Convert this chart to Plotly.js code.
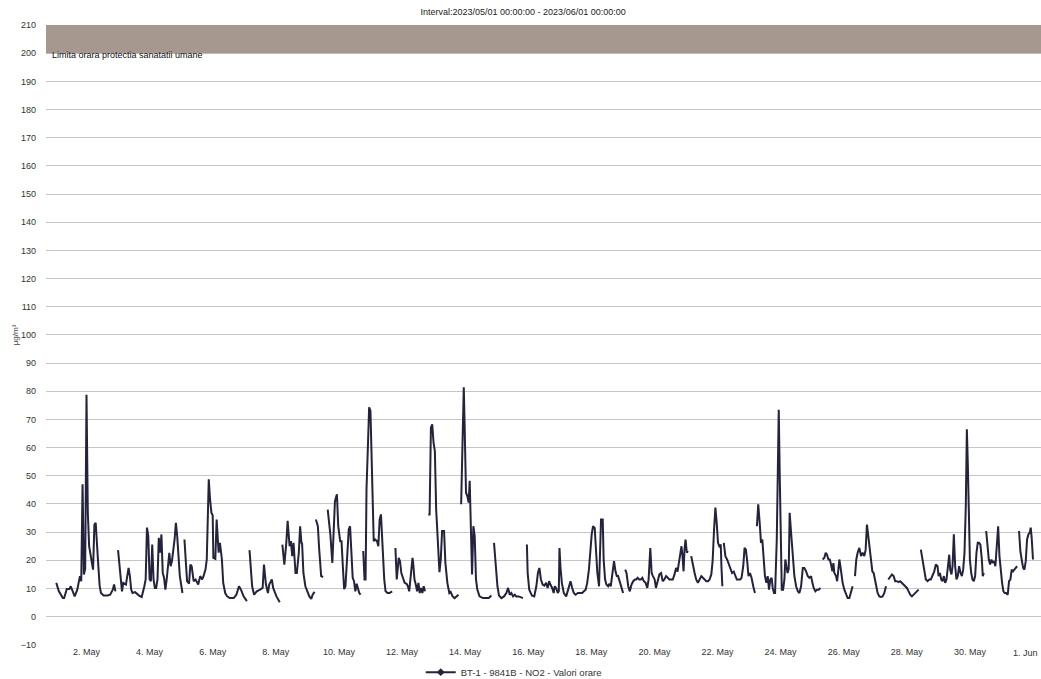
<!DOCTYPE html>
<html>
<head>
<meta charset="utf-8">
<script src="https://cdn.plot.ly/plotly-3.0.1.min.js"></script>
<style>
  html, body { margin: 0; padding: 0; background: #ffffff; }
  #chart { width: 1041px; height: 679px; }
</style>
</head>
<body>
<div id="chart"></div>
<script>
// ---- DATA (hours since 2023-05-01 00:00, NO2 µg/m³; null = missing hour) ----
const startDate = Date.UTC(2023, 4, 1, 0, 0, 0);

const hours = [
  1,3,6,7,9,11,12,13,15,17,19,20,21,22,23,24,25,26,28,29,30,31,33,34,35,37,40,42,44,45,46,47,
  48,50,51,52,54,55,56,57,58,59,61,64,66,68,69,70,71,72,73,74,75,76,77,78,79,80,81,82,83,84,85,87,88,89,90,91,92,93,95,96,97,97.7,
  98.5,99.5,100.5,102,103,104,105.5,107,108,109,110.5,112,113,114.5,115.5,117,118,119,120,120.5,122,123,124.5,125.5,127,128,129.5,131,133,136,138,140,141.5,143.5,146,147,
  148,150,151.5,153.5,156,158,159,160.5,162,163,165,166,168.5,171,172,
  173,174.5,176,177,178.5,179.5,180.5,181.5,183,184,185.5,186.5,187.5,188,189,190.5,192,193.5,195,196,197.5,198,
  198.5,200,201,202.5,204,205,
  207.5,209.5,211,212,213,214.5,215.5,217,218,219,220,221,222,223.5,224.5,225.5,226.5,227.5,228.5,229.5,230.5,231.5,232.5,233.5,
  234.5,235.5,236.3,237,238,239,240,240.5,241.5,242.5,243.5,245,246,247,248,249,250.5,251.5,253,254.5,256.5,257.5,
  259,260,261.5,262.5,263.5,264.5,266,267.5,268.5,269.5,270.5,272,272.5,273.5,274.5,275.5,276.5,277.5,278.5,279.5,280.5,281.5,282.5,
  284,285,286,287,288,289,290,291.5,292.5,293.5,294.5,296,297,298.5,300,301,302.5,304,306,307,308,
  309,310,311,311.7,312.7,313.7,314.7,315.5,316.3,317.3,318.3,319.3,320.3,321.3,323,325.5,328,330,332,333,
  334,335.3,336.6,337.8,339.6,341.6,343.4,344.7,346,347.2,348.5,349.8,351,352.8,354.3,356,357.5,
  359,359.6,360.8,362.8,364.6,366.2,367.4,368.5,369.7,371,372.3,373.6,374.8,375.9,376.9,378.2,379.4,380.2,381.2,382.5,383.3,383.8,384.5,385.6,387.1,388.9,390.4,392.2,393.5,394.7,396,397.8,399.3,401.1,402.4,403.7,404.9,406.2,
  408.3,409.3,410.6,411.6,412.6,413.9,414.6,415.4,416.7,417.4,418.5,419.5,420.8,421.8,422.8,424.1,425.3,426.4,427.4,428.4,429.7,431,432.2,433,
  433.8,434.8,436.1,437.3,438.6,439.9,441.2,442.2,443.2,444.5,445.8,446.8,448,449.3,450.6,451.6,452.9,453.9,454.9,456.2,457.2,458.5,459.8,461.1,462.3,463.6,464.9,466.2,467.4,468.7,470,471.3,472.5,473.6,474.6,475.6,476.6,477.4,478.2,478.9,479.7,480.7,481.5,482.7,
  484,485.3,486.6,487.8,489.1,490.4,491.7,492.9,494.2,495.5,496.8,498,499.3,500.3,501.4,502.4,503.4,504.4,505.4,506.5,507,507.7,508.3,
  508.8,510,511.3,512.6,513.9,515.1,516.4,517.4,518.7,520,521.3,522.3,523.6,524.6,525.6,526.6,527.6,528.7,529.9,531.2,532.5,533.3,
  534,535,536.1,537.1,538.1,539.1,540.1,541.2,542.2,543.2,544.2,545.2,546,547,547.8,549.1,549.8,550.6,551.4,552.2,552.9,553.9,554.9,555.6,556.6,557.3,558.2,558.9,560,561.3,562.5,563.8,565.1,566.3,567.6,568.9,570.1,571.4,572.7,573.9,575.2,576.2,577.2,578.5,579.7,581,582.3,583.2,
  584,585.3,586.3,587.3,588.4,589.4,590.4,591.4,592.2,592.9,594.2,595,595.7,596.7,597.5,598.2,599.2,600.5,601.8,603,604.3,605.6,606.8,607.7,
  608.6,609.6,610.6,611.9,613.2,614.4,615.7,616.7,617.7,618.7,619.7,620.8,621.8,622.8,623.8,624.8,625.8,627.1,628.4,629.6,630.9,632.2,633,
  633.9,635.4,636.7,638,639.2,640.5,641.8,643,644.3,645.6,646.8,648.1,649.4,650.6,651.9,653.2,654.4,655.7,657,657.8,
  658.7,660,661.3,662.5,663.8,665.1,666.3,667.6,668.9,670.1,671.4,672.2,673.2,674.2,675.2,676.2,677.2,678.2,679.2,680.3,681,682,682.8,683.8,684.8,685.8,686.8,687.8,688.9,689.9,690.9,691.9,692.9,693.7,694.4,695.2,696,697,698,699,700,701,702,703,704,705.1,705.8,706.6,707.5,
  708.4,709.4,710.4,711.4,712.4,713.4,714.4,715.4,716.5,717.5,718.5,719.5,720.5,721.5,722.5,723.5,724.8,725.8,726.8,727.8,728.8,729.8,730.8,731.9,732.6,
  733.4,734.4,735.4,736.5,737.5,738.5,739.5,740.5,741.5,742.3,743,744
];

const no2 = [
  12,9,6.6,6.6,9.8,9.8,10.8,9.4,7.2,9.6,14.4,12.6,47,15,17,78.8,37,25,19.6,16.7,32.7,33.3,18,11,8.4,7.5,7.5,7.8,9.6,11.4,9,null,
  23.6,13.2,9,12,11.4,14.4,17.3,14.4,9.6,8.4,8.7,7.5,7,10.8,13.2,31.6,28.6,13.2,12.6,25.6,13.2,10.2,10.2,13.2,28,22.7,29.2,15.5,13.8,9.6,13.2,22.7,17.9,19.7,22.7,27.4,33.3,28.6,14.4,10.8,8.4,null,
  27.4,17.9,12.6,11.7,18.5,17.9,12.6,13.2,12,11.4,14.4,13.2,14.4,16.7,20.3,48.8,41.6,36.9,36,20.9,20.5,34.5,22.7,26.2,20.3,12,8.4,7.2,6.6,6.6,7.8,10.8,9.6,7.2,5.5,null,
  23.6,10.8,7.8,9,9.6,10.2,18.5,11.4,8.4,11.4,13.2,10.2,7.2,5.1,null,
  25.6,18.5,26.2,34,25,26.8,21.5,26.2,15.5,15.5,22.7,32.1,26.2,26,15.5,10.8,9,7.2,6.3,7.8,8.8,null,
  34.5,32.1,24,14.4,14.1,null,
  38,29.2,19.1,29.8,41,43.4,32.1,26.8,26.8,17.9,9.8,10.8,20.3,31,32.1,22.7,13.8,12.6,9,11.7,9.6,8.4,7.8,null,
  23.3,13.2,13.2,45.2,59.4,74.3,73.1,64.2,46.4,26.8,27.4,26.8,25,34.5,36.3,25,13.2,9,8.4,8.4,9,null,
  24.4,13.2,20.9,19.7,15.5,13.8,12,11.7,10.8,9,13.2,20.9,19.1,13.2,11.4,9,12,8.4,10.2,8.4,10.8,9,null,
  36.3,36.3,67.1,68.3,61.8,58.8,38.1,22.7,15.8,20.3,30.4,30.4,19.1,12,8.4,8.8,7.2,6.6,7.2,7.8,null,
  39.9,60.6,81.4,66.5,44,42.8,40.5,48.2,34.5,15,32.1,28.6,13.2,9.6,7.2,6.6,6.6,6.6,7.5,null,
  26.2,17.3,10.8,7.5,6.6,7.2,8.4,10.2,7.8,8.4,7.2,7.8,7.2,7.2,7,6.6,null,
  25.6,15.5,9.6,7.5,7.2,10.8,15.5,17.3,13.2,11.4,11,12,10.2,12.6,11.4,10.2,8.4,10.8,10.2,8.4,9,24.4,17.9,12,8.4,7.2,9.6,12.6,10.2,8.4,7.8,8.4,8.4,8.4,9,9.6,12,16.7,
  29.2,32.1,31.5,22.7,15.5,10.8,25,34.5,34.5,20.3,13.2,11.4,10.8,11.7,10.8,15.5,19.7,16.1,14.4,14.4,12,10.2,8.4,null,
  16.7,15.5,10.8,9,11.4,12.6,13.2,13.2,13.8,13.2,13.2,13.8,12.6,12,10.2,13.2,24.4,15.5,14.4,13.2,10.2,13.2,15,15.5,12.6,13.2,14.4,13.8,13.2,13.2,13.2,15,17.3,16,19.1,22.7,25,21.5,16.1,23.8,27.4,22.7,23.3,null,
  21.5,17.9,15.5,13.2,12,13.2,14.4,13.8,13.2,12.6,12.6,13.2,15,19.7,31,38.7,33.3,26.2,25,25.6,17.9,10.8,null,
  26.2,21.5,20.3,18.5,16.7,15.5,16,14.4,13.2,13.2,13.2,13.8,17.9,24.4,23.8,19.7,14.4,15.5,13.8,10.8,8.4,null,
  32.1,39.9,33.3,26.2,27.4,19.7,14.4,12,14.4,9.6,13.2,13.8,10.2,8.4,8.4,27.4,54.7,73.4,48.8,17.9,9.6,9.6,13.2,20.3,17.9,15.5,17,36.9,29.8,20.3,14.4,10.8,9,8.4,10.8,17.3,17.3,16.1,14.4,13.8,14.4,12,10.2,9,9.6,9.6,10.2,null,
  20.3,20.9,22.7,22,20.3,20.3,18.5,16.1,19,15.5,14.4,12.6,15.5,20.3,17.9,15.5,12,9.6,7.8,6.6,6.6,8.4,10.8,null,
  14.4,20.3,22.7,24.4,21.5,22.7,21.5,23.8,32.7,28.6,22.7,20.3,16.1,15.5,13.2,10.2,8.4,7.2,7,7.2,8.4,10.8,null,
  13.2,14.4,15,14.4,12.6,12.6,12.3,12.6,12,11.4,10.8,10.2,9,7.8,7.2,7.8,8.4,9,9.6,null,
  23.8,20.3,15.5,13.2,12.6,13.2,13.2,14.4,16.1,18.5,17.9,14.4,15.5,13.2,12.6,14.4,12,13.2,17.9,22,16.7,15,17.9,29.2,17.9,13.2,14.4,17.9,15.5,14.4,16.7,22.7,39.3,66.5,54.7,31,20.3,15.5,13.2,12.6,14.4,22.7,26.2,26.2,25.6,20.3,14.4,15.5,null,
  30.4,25,20.3,18.5,20.3,19.1,19.7,17.9,27.4,32.1,21.5,15.5,12,9,8.4,8.4,7.8,12.6,13.2,16.7,16.1,16.7,17.3,17.9,null,
  30.4,23.3,20.3,17.3,16.7,19.7,27.4,29.2,29.8,31.6,28,20.3
];

const tickDates = ['2023-05-02','2023-05-04','2023-05-06','2023-05-08','2023-05-10','2023-05-12','2023-05-14','2023-05-16',
                   '2023-05-18','2023-05-20','2023-05-22','2023-05-24','2023-05-26','2023-05-28','2023-05-30','2023-06-01'];
const tickLabels = ['2. May','4. May','6. May','8. May','10. May','12. May','14. May','16. May',
                    '18. May','20. May','22. May','24. May','26. May','28. May','30. May','1. Jun'];

const limitBand = [200, 210];
const limitLabel = 'Limita orara protectia sanatatii umane';
const seriesName = 'BT-1 - 9841B - NO2 - Valori orare';
const chartTitle = 'Interval:2023/05/01 00:00:00 - 2023/06/01 00:00:00';
const yTitle = 'µg/m³';

// ---- BUILD ----
function toStr(h) {
  const d = new Date(startDate + h * 3600000);
  return d.toISOString().replace('T', ' ').slice(0, 19);
}
const xs = hours.map(toStr);

const FONT = 'Liberation Sans, Arial, sans-serif';
const LINE = '#23233d';
const TICKFONT = { family: FONT, size: 9, color: '#333333' };

// last tick label sits at the right edge: draw it right-aligned so it stays readable
const lastIdx = tickLabels.length - 1;
const shownTickText = tickLabels.map((t, i) => (i === lastIdx ? '' : t));

const traces = [
  {
    type: 'scatter', mode: 'lines', x: xs, y: no2,
    line: { color: LINE, width: 2 }, connectgaps: false,
    showlegend: false, hoverinfo: 'x+y'
  },
  {
    type: 'scatter', mode: 'lines+markers', x: [null], y: [null],
    name: seriesName, line: { color: LINE, width: 2 },
    marker: { color: LINE, size: 6, symbol: 'diamond' }, showlegend: true
  }
];

const layout = {
  width: 1041, height: 679,
  margin: { l: 46, r: 0, t: 25, b: 34 },
  paper_bgcolor: '#ffffff', plot_bgcolor: '#ffffff',
  font: { family: FONT, size: 9, color: '#333333' },
  title: {
    text: chartTitle, font: { family: FONT, size: 9, color: '#222222' },
    xref: 'container', x: 0.5025, xanchor: 'center',
    yref: 'container', y: 0.982, yanchor: 'middle'
  },
  xaxis: {
    type: 'date', range: [toStr(-6.81), toStr(750.1)],
    tickmode: 'array', tickvals: tickDates, ticktext: shownTickText,
    showgrid: false, zeroline: false, showline: false, ticks: '',
    tickfont: TICKFONT
  },
  yaxis: {
    range: [-10.05, 210], tick0: 0, dtick: 10,
    showgrid: true, gridcolor: '#c6c6c6', gridwidth: 1,
    zeroline: false, showline: false, ticks: '',
    ticklabelstandoff: 9,
    tickfont: TICKFONT,
    title: { text: yTitle, font: { family: FONT, size: 8, color: '#444444' }, standoff: 0 }
  },
  shapes: [{
    type: 'rect', xref: 'paper', x0: 0, x1: 1, yref: 'y', y0: limitBand[0], y1: limitBand[1],
    fillcolor: '#a6988f', line: { width: 0 }, layer: 'above'
  }],
  annotations: [
    {
      text: limitLabel, xref: 'paper', x: 0.004, xanchor: 'left',
      yref: 'y', y: limitBand[0], yanchor: 'middle', yshift: -2, showarrow: false,
      font: { family: FONT, size: 9, color: '#111111' }
    },
    {
      text: tickLabels[lastIdx], xref: 'paper', x: 1, xanchor: 'right', xshift: -1,
      yref: 'paper', y: 0, yanchor: 'top', yshift: -1, showarrow: false,
      font: TICKFONT
    }
  ],
  showlegend: true,
  legend: {
    orientation: 'h', xref: 'container', x: 0.4935, xanchor: 'center',
    yref: 'container', y: 0.01, yanchor: 'middle',
    font: { family: FONT, size: 9.5, color: '#333333' },
    bgcolor: 'rgba(0,0,0,0)'
  }
};

Plotly.newPlot('chart', traces, layout, { displayModeBar: false, staticPlot: true });
</script>
</body>
</html>
